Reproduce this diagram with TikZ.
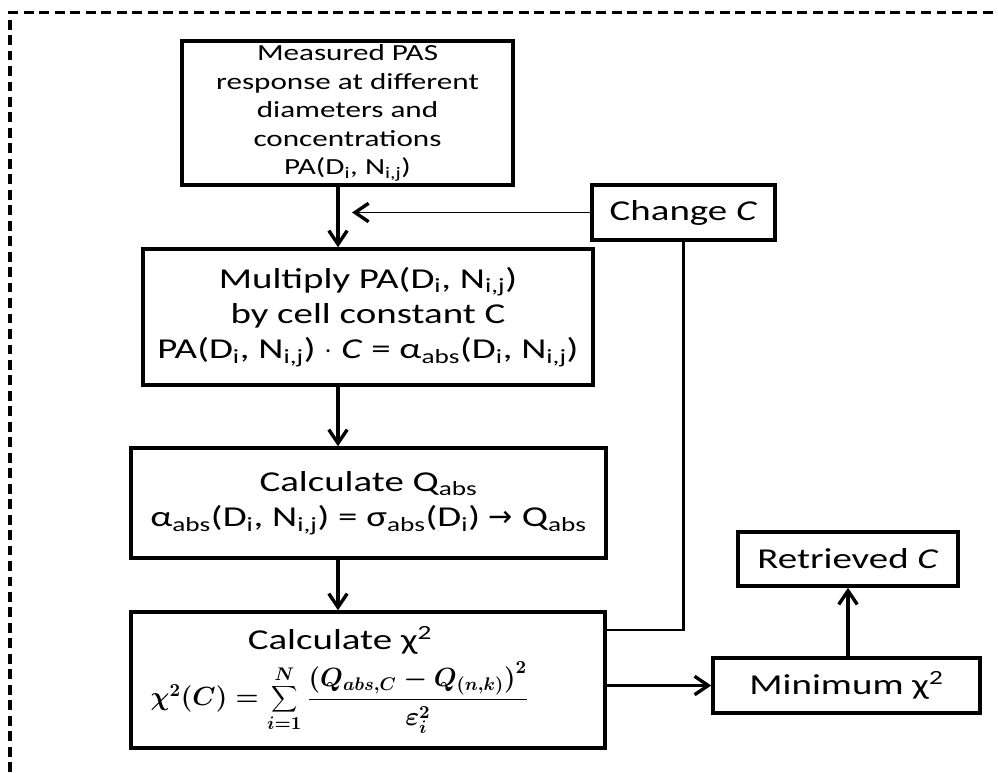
\documentclass[tikz,border=0pt]{standalone}
\usepackage{fontspec}
\usepackage{graphicx}
\setmainfont{Carlito}[FakeStretch=1.35]
\newfontfamily\symf{DejaVu Sans}
\usetikzlibrary{arrows.meta}
\newcommand{\lo}[1]{\textsubscript{#1}}
\newcommand{\PAij}{PA(D\lo{i}, N\lo{i,j})}
\tikzset{
  box/.style={draw, line width=2.5pt, align=center, inner sep=1pt, font=\fontsize{20.5}{25}\selectfont},
  arr/.style={-{Straight Barb[length=3.4mm,width=4.6mm,line width=2.4pt]}, line width=2.4pt}
}
\begin{document}
\begin{tikzpicture}[x=0.025cm,y=-0.025cm]
  \useasboundingbox (0,0) rectangle (998,772);
  \draw[line width=2.4pt, dash pattern=on 7pt off 4pt] (10,772) -- (10,12.5) -- (998,12.5);
  \node[box, minimum width=8.275cm, minimum height=3.6cm, font=\fontsize{16.4}{20.3}\selectfont] (meas) at (347.5,113)
    {Measured PAS\\response at different\\diameters and\\concentrations\\\PAij};
  \node[box, minimum width=4.575cm, minimum height=1.375cm] (change) at (683.5,212.5) {Change \textit{C}};
  \node[box, minimum width=11.25cm, minimum height=3.4cm] (mult) at (368,317)
    {Multiply \PAij\\by cell constant C\\\PAij\ $\cdot$ \textit{C} = α\lo{abs}(D\lo{i}, N\lo{i,j})};
  \node[box, minimum width=11.875cm, minimum height=2.75cm] (qabs) at (368.5,503)
    {Calculate Q\lo{abs}\\α\lo{abs}(D\lo{i}, N\lo{i,j}) = σ\lo{abs}(D\lo{i}) {\symf →} Q\lo{abs}};
  \node[box, minimum width=11.85cm, minimum height=3.4cm] (chi) at (368,680)
    {Calculate χ\textsuperscript{2}\hspace*{1.4cm}\\[4pt]
     {\fontsize{14}{16}\selectfont\scalebox{1.3}[1.3]{\boldmath$\chi^2(C)=\displaystyle\sum_{i=1}^{N}\frac{\big(Q_{abs,C}-Q_{(n,k)}\big)^2}{\varepsilon_i^2}$}}\hspace*{1.4cm}};
  \node[box, minimum width=6.675cm, minimum height=1.375cm] (mini) at (846.5,685.5) {Minimum χ\textsuperscript{2}};
  \node[box, minimum width=5.5cm, minimum height=1.35cm] (retr) at (848,559) {Retrieved \textit{C}};
  \coordinate (spine) at (338,0);
  \coordinate (join) at (352,212.5);
  \coordinate (fb) at (684,630);
  \foreach \a/\b in {meas/mult, mult/qabs, qabs/chi} \draw[arr] (\a.south -| spine) -- (\b.north -| spine);
  \draw[arr, line width=1.3pt] (change.west) -- (join);
  \draw[line width=1.6pt] (chi.east |- fb) -- (change.south |- fb) -- (change.south);
  \draw[arr] (chi.east |- mini.west) -- (mini.west);
  \draw[arr] (retr.south |- mini.north) -- (retr.south);
\end{tikzpicture}
\end{document}
